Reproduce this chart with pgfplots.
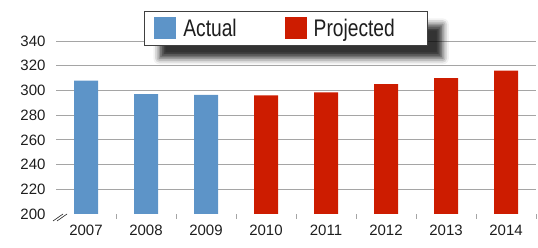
\documentclass[border=0pt]{standalone}
\usepackage{fontspec}
\setmainfont{Liberation Sans}
\newfontfamily\legendfont[FakeStretch=0.8]{Liberation Sans}
\usepackage{pgfplots}
\pgfplotsset{compat=1.18}
\usetikzlibrary{shadows.blur}
\makeatletter
\tikzset{no preactions/.code={\let\tikz@preactions\pgfutil@empty}}
\makeatother
\definecolor{actual}{RGB}{93,148,200}
\definecolor{projected}{RGB}{205,28,0}
\definecolor{gridgray}{RGB}{165,165,165}
\definecolor{txt}{RGB}{30,30,30}
\begin{document}
\begin{tikzpicture}
\path[use as bounding box] (0,0) rectangle (538bp,248bp);
\begin{axis}[
  at={(56bp,34bp)}, anchor=south west,
  scale only axis, width=480bp, height=173bp,
  xmin=-0.5, xmax=7.5, ymin=200, ymax=340,
  axis line style={draw=none},
  tick pos=left,
  xtick={0,...,7},
  xticklabels={2007,2008,2009,2010,2011,2012,2013,2014},
  major tick length=0pt,
  extra x ticks={0.5,1.5,...,7.5},
  extra x tick labels={},
  extra x tick style={major tick length=5bp, tick align=outside, tick style={gridgray, line width=0.8pt}, grid=none},
  ytick={220,240,...,340},
  extra y ticks={200},
  extra y tick style={grid=none},
  ymajorgrids,
  grid style={gridgray, line width=0.8pt},
  /pgf/number format/assume math mode=true,
  /pgf/number format/1000 sep={},
  tick label style={font=\fontsize{15bp}{18bp}\selectfont, text=txt},
  yticklabel style={xshift=-7bp},
  xticklabel style={yshift=-8bp},
  legend columns=2,
  legend style={at={(0.1833,1.173)}, anchor=north west, draw=black!75, line width=0.8pt, fill=white,
    font=\legendfont\fontsize{24bp}{28bp}\selectfont, text=txt,
    inner xsep=10bp, inner ysep=5.5bp,
    blur shadow={shadow xshift=15bp, shadow yshift=-13bp, shadow blur radius=6bp, shadow opacity=80},
    /tikz/every odd column/.append style={column sep=5bp},
    /tikz/every even column/.append style={column sep=46bp}},
  legend image code/.code={\fill[no preactions, #1, draw=none] (0bp,-11bp) rectangle (22bp,11bp);},
]
\addplot[ybar, fill=actual, draw=none, bar width=24bp, bar shift=0pt]
  coordinates {(0,308) (1,297) (2,296.5)};
\addlegendentry{Actual}
\addplot[ybar, fill=projected, draw=none, bar width=24bp, bar shift=0pt]
  coordinates {(3,296) (4,298.5) (5,305) (6,310) (7,316)};
\addlegendentry{Projected\rule{21bp}{0pt}}
\draw[gridgray, line width=0.8pt] (axis cs:-0.283,200) -- (axis cs:7.5,200);
\end{axis}
\draw[txt, line width=0.6pt] (53bp,27bp) -- (63bp,34bp) (57bp,27bp) -- (67bp,34bp);
\end{tikzpicture}
\end{document}
